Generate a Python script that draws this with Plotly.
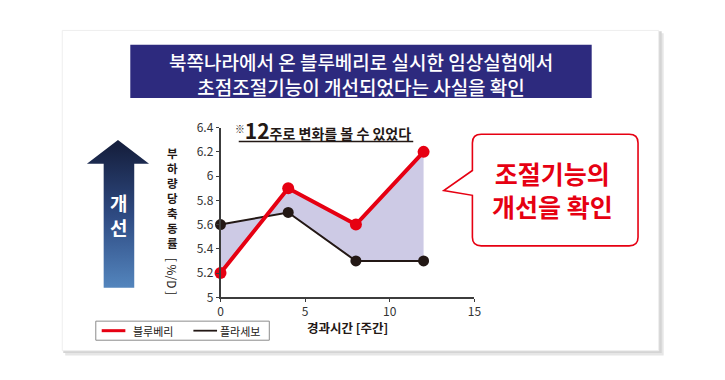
import plotly.graph_objects as go

# ---------------- data ----------------
weeks = [0, 4, 8, 12]
blueberry = [5.2, 5.9, 5.6, 6.2]
placebo = [5.6, 5.7, 5.3, 5.3]
series_names = ["블루베리", "플라세보"]
x_ticks = [0, 5, 10, 15]
y_ticks = [5, 5.2, 5.4, 5.6, 5.8, 6, 6.2, 6.4]
title_lines = ["북쪽나라에서 온 블루베리로 실시한 임상실험에서",
               "초점조절기능이 개선되었다는 사실을 확인"]
y_title_chars = list("부하량당축동률")
y_title_unit = "[ %/D ]"
x_title = "경과시간 [주간]"
note_big = "12"
note_rest = "주로 변화를 볼 수 있었다"
callout_lines = ["조절기능의", "개선을 확인"]
arrow_label = ["개", "선"]

# ---------------- style ----------------
OFF = 8                      # body margin of the html page
W, H = 725 - 2 * OFF, 380 - 2 * OFF
FONT = "Noto Sans CJK KR, Noto Sans, sans-serif"
RED = "#e60012"
BLACK = "#231815"
FILL = "rgba(196,193,224,0.85)"
NAVY = "#2d2a7e"


def px(x):
    return (x - OFF) / W


def py(y):
    return 1 - (y - OFF) / H


fig = go.Figure()

# shaded area between the two series
fig.add_trace(go.Scatter(x=weeks, y=placebo, mode="lines", line=dict(width=0),
                         showlegend=False, hoverinfo="skip"))
fig.add_trace(go.Scatter(x=weeks, y=blueberry, mode="lines", line=dict(width=0),
                         fill="tonexty", fillcolor=FILL,
                         showlegend=False, hoverinfo="skip"))
# lines
fig.add_trace(go.Scatter(x=weeks, y=placebo, mode="lines+markers", name=series_names[1],
                         line=dict(color=BLACK, width=2),
                         marker=dict(color=BLACK, size=11), cliponaxis=False,
                         showlegend=False))
fig.add_trace(go.Scatter(x=weeks, y=blueberry, mode="lines+markers", name=series_names[0],
                         line=dict(color=RED, width=4),
                         marker=dict(color=RED, size=12), cliponaxis=False,
                         showlegend=False))

# big gradient arrow (decoration) in a pixel-space subplot
ax_x = [116.5, 148, 133, 133, 102, 102, 85, 116.5]
ax_y = [136, 161, 161, 291, 291, 161, 161, 136]
fig.add_trace(go.Scatter(x=ax_x, y=ax_y, xaxis="x2", yaxis="y2", mode="lines",
                         line=dict(width=0), fill="toself",
                         fillgradient=dict(type="vertical", start=136, stop=291,
                                           colorscale=[[0, "#16203f"], [0.45, "#2e4a82"], [1, "#5a90c8"]]),
                         showlegend=False, hoverinfo="skip"))

axis_common = dict(showline=True, linecolor="#3c3c3c", linewidth=1.5, ticks="outside",
                   ticklen=3, tickcolor="#3c3c3c", showgrid=False, zeroline=False,
                   tickfont=dict(size=12, color="#333333", family=FONT), fixedrange=True)

fig.update_layout(
    width=W, height=H,
    margin=dict(l=0, r=0, t=0, b=0),
    paper_bgcolor="white",
    plot_bgcolor="rgba(0,0,0,0)",
    font=dict(family=FONT, color=BLACK),
    xaxis=dict(domain=[px(220.5), px(478)], range=[0, 15], tickvals=x_ticks, anchor="y", **axis_common),
    yaxis=dict(domain=[py(301), py(123)], range=[5, 6.4], tickvals=y_ticks, anchor="x", **axis_common),
    xaxis2=dict(domain=[0, 1], range=[OFF, OFF + W], visible=False, anchor="y2", fixedrange=True),
    yaxis2=dict(domain=[0, 1], range=[OFF + H, OFF], visible=False, anchor="x2", fixedrange=True),
    showlegend=False,
)

shapes = []
# card shadow and card
shapes.append(dict(type="rect", xref="paper", yref="paper", x0=px(63), x1=px(670), y0=py(24), y1=py(362),
                   fillcolor="#e6e6e6", line=dict(width=0), layer="below"))
shapes.append(dict(type="rect", xref="paper", yref="paper", x0=px(61), x1=px(668), y0=py(22), y1=py(359.5),
                   fillcolor="#d4d4d4", line=dict(width=0), layer="below"))
shapes.append(dict(type="rect", xref="paper", yref="paper", x0=px(60), x1=px(665), y0=py(21), y1=py(357),
                   fillcolor="white", line=dict(color="#eeeeee", width=1), layer="below"))
# title box
shapes.append(dict(type="rect", xref="paper", yref="paper", x0=px(129), x1=px(597), y0=py(36), y1=py(92),
                   fillcolor=NAVY, line=dict(width=0), layer="below"))

# callout bubble
x0, x1, y0, y1, r = 476, 644, 130, 247, 9
pts = [
    ("M", x0 + r, y0), ("L", x1 - r, y0), ("Q", x1, y0, x1, y0 + r), ("L", x1, y1 - r),
    ("Q", x1, y1, x1 - r, y1), ("L", x0 + r, y1), ("Q", x0, y1, x0, y1 - r),
    ("L", x0, 194), ("L", 447, 189), ("L", x0, 168), ("L", x0, y0 + r), ("Q", x0, y0, x0 + r, y0),
]
path = ""
for p in pts:
    cmd = p[0]
    coords = p[1:]
    seg = []
    for i in range(0, len(coords), 2):
        seg.append(f"{px(coords[i]):.5f},{py(coords[i + 1]):.5f}")
    path += cmd + " " + " ".join(seg) + " "
path += "Z"
shapes.append(dict(type="path", xref="paper", yref="paper", path=path,
                   fillcolor="white", line=dict(color=RED, width=1.6), layer="above"))

# underline of note
shapes.append(dict(type="line", xref="paper", yref="paper", x0=px(239), x1=px(416), y0=py(137.5), y1=py(137.5),
                   line=dict(color=BLACK, width=1.5)))

# legend box and samples
shapes.append(dict(type="rect", xref="paper", yref="paper", x0=px(94), x1=px(270), y0=py(326), y1=py(346),
                   fillcolor="white", line=dict(color="#8c8c8c", width=1)))
shapes.append(dict(type="line", xref="paper", yref="paper", x0=px(100), x1=px(124), y0=py(336), y1=py(336),
                   line=dict(color=RED, width=3)))
shapes.append(dict(type="line", xref="paper", yref="paper", x0=px(193), x1=px(217), y0=py(336), y1=py(336),
                   line=dict(color=BLACK, width=1.8)))

fig.update_layout(shapes=shapes)

ann = []
# title (two lines)
ann.append(dict(x=px(363), y=py(66.5), xref="paper", yref="paper", text="<br>".join(title_lines),
                showarrow=False, xanchor="center", yanchor="middle",
                font=dict(size=19, color="white", family=FONT, weight=500)))
# note
ann.append(dict(x=px(233), y=py(126), xref="paper", yref="paper",
                text=f"<b><sup>※</sup><span style='font-size:21px'>{note_big}</span>{note_rest}</b>",
                showarrow=False, xanchor="left", yanchor="middle", font=dict(size=14, color=BLACK, family=FONT)))
# y title: stacked characters + rotated unit
ann.append(dict(x=px(172), y=py(139), xref="paper", yref="paper",
                text="<b>" + "<br>".join(y_title_chars) + "</b>",
                showarrow=False, xanchor="center", yanchor="top",
                font=dict(size=11.5, color=BLACK, family=FONT)))
ann.append(dict(x=px(172), y=py(279), xref="paper", yref="paper", text=y_title_unit, textangle=90,
                showarrow=False, xanchor="center", yanchor="middle",
                font=dict(size=12, color=BLACK, family=FONT)))
# x title
ann.append(dict(x=px(349), y=py(332.5), xref="paper", yref="paper", text=f"<b>{x_title}</b>",
                showarrow=False, xanchor="center", yanchor="middle",
                font=dict(size=12.5, color=BLACK, family=FONT)))
# callout text
ann.append(dict(x=px(557), y=py(188), xref="paper", yref="paper",
                text="<b>" + "<br>".join(callout_lines) + "</b>",
                showarrow=False, xanchor="center", yanchor="middle",
                font=dict(size=25, color=RED, family=FONT)))
# arrow label
ann.append(dict(x=px(117.5), y=py(215), xref="paper", yref="paper",
                text="<b>" + "<br>".join(arrow_label) + "</b>",
                showarrow=False, xanchor="center", yanchor="middle",
                font=dict(size=19, color="white", family=FONT)))
# legend text
ann.append(dict(x=px(130), y=py(336), xref="paper", yref="paper", text=series_names[0], showarrow=False,
                xanchor="left", yanchor="middle", font=dict(size=11, color=BLACK, family=FONT)))
ann.append(dict(x=px(218), y=py(336), xref="paper", yref="paper", text=series_names[1], showarrow=False,
                xanchor="left", yanchor="middle", font=dict(size=11, color=BLACK, family=FONT)))

fig.update_layout(annotations=ann)

fig.write_html("out.html")
